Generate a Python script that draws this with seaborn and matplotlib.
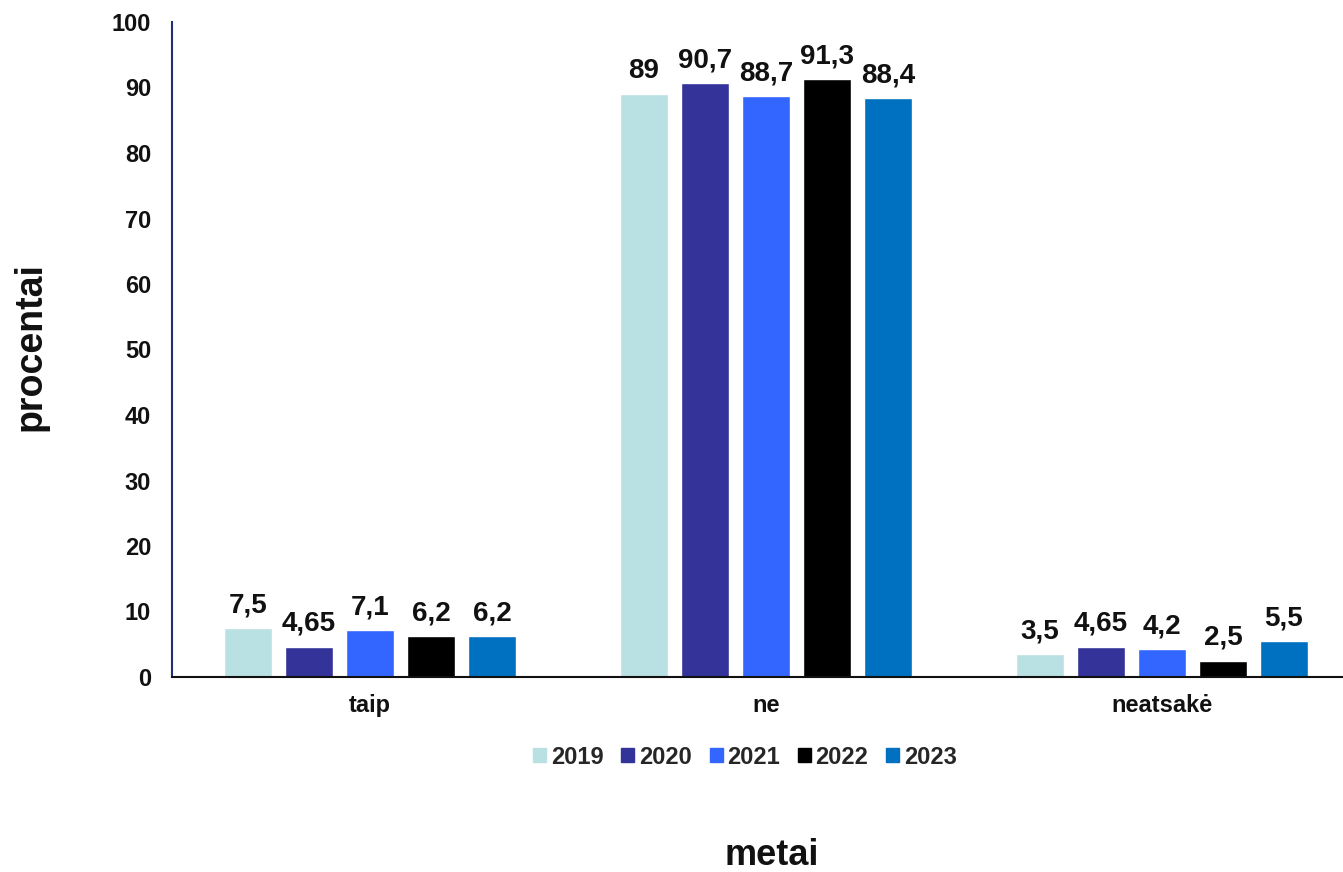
import pandas as pd
import seaborn as sns
import matplotlib.pyplot as plt

# data
categories = ["taip", "ne", "neatsakė"]
years = ["2019", "2020", "2021", "2022", "2023"]
values = {
    "2019": [7.5, 89, 3.5],
    "2020": [4.65, 90.7, 4.65],
    "2021": [7.1, 88.7, 4.2],
    "2022": [6.2, 91.3, 2.5],
    "2023": [6.2, 88.4, 5.5],
}
colors = ["#B9E0E2", "#333399", "#3366FF", "#000000", "#0070C0"]

rows = []
for y in years:
    for c, v in zip(categories, values[y]):
        rows.append({"atsakymas": c, "metai": y, "procentai": v})
df = pd.DataFrame(rows)

sns.set_theme(style="white")
plt.rcParams["font.family"] = ["Liberation Sans", "DejaVu Sans"]
plt.rcParams["font.weight"] = "bold"

fig = plt.figure(figsize=(13.43, 8.72), dpi=100)
ax = fig.add_axes([172 / 1343, 1 - 677 / 872, 1188 / 1343, 655 / 872])

sns.barplot(data=df, x="atsakymas", y="procentai", hue="metai",
            palette=colors, saturation=1, width=0.77, gap=0.21, ax=ax, legend=False)

for cont, y in zip(ax.containers, years):
    ax.bar_label(cont, labels=[f"{v:g}".replace(".", ",") for v in values[y]],
                 padding=7, fontsize=20, fontweight="bold", color="#111111")

ax.set_xlim(-0.5, 2.5)
ax.set_ylim(0, 100)
ax.set_yticks(range(0, 101, 10))
ax.tick_params(axis="both", length=0, labelsize=17, colors="#111111")
ax.tick_params(axis="x", pad=12)
ax.tick_params(axis="y", pad=15)
for lab in ax.get_xticklabels() + ax.get_yticklabels():
    lab.set_fontweight("bold")

ax.spines["top"].set_visible(False)
ax.spines["right"].set_visible(False)
ax.spines["left"].set_color("#1F2F7A")
ax.spines["left"].set_linewidth(1.5)
ax.spines["bottom"].set_color("#111111")
ax.spines["bottom"].set_linewidth(1.5)

ax.set_xlabel("")
ax.set_ylabel("")
fig.text(31 / 1343, 1 - 347 / 872, "procentai", rotation=90, fontsize=27,
         fontweight="bold", ha="center", va="center", color="#111111")
fig.text(772 / 1343, 1 - 855 / 872, "metai", fontsize=26,
         fontweight="bold", ha="center", va="center", color="#111111")

handles = [plt.Rectangle((0, 0), 1, 1, color=c) for c in colors]
fig.legend(handles, years, loc="center", bbox_to_anchor=(745 / 1343, 1 - 757 / 872),
           ncol=5, frameon=False, handlelength=0.55, handleheight=0.55,
           handletextpad=0.2, columnspacing=0.75,
           prop={"size": 17, "weight": "bold"})

fig.savefig("out.png", dpi=100)
